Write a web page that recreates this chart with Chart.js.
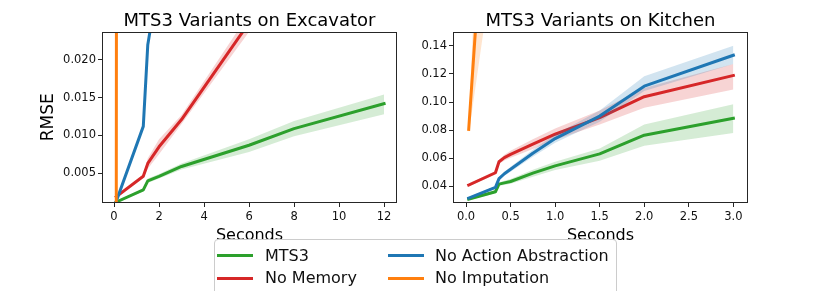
<!DOCTYPE html>
<html>
<head>
<meta charset="utf-8">
<script src="https://cdn.jsdelivr.net/npm/chart.js@4.4.0/dist/chart.umd.min.js"></script>
<style>
body { margin: 0; width: 830px; height: 291px; overflow: hidden; background: #fff; position: relative; font-family: "DejaVu Sans", sans-serif; }
canvas { position: absolute; top: 0; }
#legend { position: absolute; left: 214px; top: 239px; width: 401px; height: 70px; border: 1px solid #ccc; border-radius: 4px; background: rgba(255,255,255,0.8); }
.item { position: absolute; font-size: 16px; line-height: 20px; color: #111; white-space: nowrap; }
.swatch { position: absolute; height: 3px; width: 36px; }
</style>
</head>
<body>
<canvas id="excavator" width="410" height="250" style="left:0"></canvas>
<canvas id="kitchen" width="430" height="250" style="left:400px"></canvas>
<div id="legend"></div>
<script>
// series names / colours, in plot order
const seriesNames = ['MTS3', 'No Memory', 'No Action Abstraction', 'No Imputation'];
const seriesColors = ['#2ca02c', '#d62728', '#1f77b4', '#ff7f0e'];

// Excavator (x = seconds)
const excTimes = [0.1, 1.3, 1.5, 2, 3, 6, 8, 12];
const excMts3 = [0.0012, 0.0028, 0.0040, 0.0046, 0.0059, 0.0087, 0.0109, 0.0142];
const excMts3Lo = [0.0011, 0.0026, 0.0037, 0.0043, 0.0055, 0.0078, 0.0099, 0.0128];
const excMts3Hi = [0.0013, 0.0030, 0.0043, 0.0049, 0.0063, 0.0095, 0.0119, 0.0154];
const excNoMemory = [0.0019, 0.0046, 0.0063, 0.0085, 0.0121, 0.0249, 0.0330, 0.0480];
const excNoMemoryLo = [0.0018, 0.0044, 0.0056, 0.0075, 0.0115, 0.0237, 0.0315, 0.0455];
const excNoMemoryHi = [0.0020, 0.0048, 0.0070, 0.0095, 0.0127, 0.0261, 0.0345, 0.0505];
const excNoAction = [0.0013, 0.0112, 0.0220, 0.0310, 0.0480, 0.0900, 0.1200, 0.1800];
const excNoActionLo = [0.0012, 0.0109, 0.0215, 0.0300, 0.0465, 0.0870, 0.1160, 0.1740];
const excNoActionHi = [0.0014, 0.0115, 0.0225, 0.0320, 0.0495, 0.0930, 0.1240, 0.1860];
const excNoImput = [0.0013, 5.2, 5.6, 5.9, 6.3, 7.1, 7.5, 8.2];
const excNoImputLo = [0.0012, 5.0, 5.4, 5.7, 6.1, 6.9, 7.3, 8.0];
const excNoImputHi = [0.0014, 5.4, 5.8, 6.1, 6.5, 7.3, 7.7, 8.4];
const excXTicks = [0, 2, 4, 6, 8, 10, 12];
const excYTicks = [0.005, 0.010, 0.015, 0.020];

// Kitchen (x = seconds)
const kitTimes = [0.03, 0.33, 0.37, 0.43, 0.5, 0.75, 1.0, 1.5, 2.0, 3.0];
const kitMts3 = [0.0310, 0.0362, 0.0416, 0.0425, 0.0435, 0.0494, 0.0546, 0.0631, 0.0764, 0.0884];
const kitMts3Lo = [0.0302, 0.0352, 0.0404, 0.0410, 0.0418, 0.0469, 0.0516, 0.0583, 0.0690, 0.0780];
const kitMts3Hi = [0.0318, 0.0372, 0.0428, 0.0440, 0.0452, 0.0519, 0.0576, 0.0670, 0.0840, 0.0985];
const kitNoMemory = [0.0410, 0.0497, 0.0575, 0.0605, 0.0628, 0.0701, 0.0771, 0.0889, 0.1038, 0.1189];
const kitNoMemoryLo = [0.0400, 0.0485, 0.0560, 0.0585, 0.0603, 0.0666, 0.0731, 0.0840, 0.0960, 0.1090];
const kitNoMemoryHi = [0.0420, 0.0509, 0.0590, 0.0625, 0.0653, 0.0736, 0.0811, 0.0940, 0.1100, 0.1270];
const kitNoAction = [0.0317, 0.0393, 0.0455, 0.0490, 0.0522, 0.0636, 0.0740, 0.0900, 0.1113, 0.1333];
const kitNoActionLo = [0.0309, 0.0383, 0.0443, 0.0476, 0.0505, 0.0611, 0.0710, 0.0860, 0.1078, 0.1270];
const kitNoActionHi = [0.0325, 0.0403, 0.0467, 0.0504, 0.0539, 0.0661, 0.0770, 0.0940, 0.1184, 0.1400];
const kitNoImput = [0.0805, 0.36, 0.42, 0.47, 0.52, 0.65, 0.75, 0.90, 1.05, 1.30];
const kitNoImputLo = [0.0770, 0.21, 0.26, 0.30, 0.34, 0.45, 0.53, 0.66, 0.78, 0.98];
const kitNoImputHi = [0.0840, 0.52, 0.58, 0.64, 0.70, 0.85, 0.97, 1.14, 1.32, 1.62];
const kitXTicks = [0, 0.5, 1.0, 1.5, 2.0, 2.5, 3.0];
const kitYTicks = [0.04, 0.06, 0.08, 0.10, 0.12, 0.14];

Chart.defaults.font.family = '"DejaVu Sans", sans-serif';
Chart.defaults.color = '#111';

function pts(xs, ys) {
    return xs.map((x, i) => ({ x: x, y: ys[i] }));
}

function hexA(hex, a) {
    const n = parseInt(hex.slice(1), 16);
    return 'rgba(' + (n >> 16) + ',' + ((n >> 8) & 255) + ',' + (n & 255) + ',' + a + ')';
}

// band (lo, hi) then mean line for each series
function buildSets(xs, series) {
    const sets = [];
    series.forEach((s, k) => {
        const c = seriesColors[k];
        sets.push({ data: pts(xs, s[1]), borderWidth: 0, pointRadius: 0, fill: false, clip: 0 });
        sets.push({ data: pts(xs, s[2]), borderWidth: 0, pointRadius: 0, fill: '-1', backgroundColor: hexA(c, 0.2), clip: 0 });
        sets.push({ label: seriesNames[k], data: pts(xs, s[0]), borderColor: c, borderWidth: 3, pointRadius: 0, fill: false,
            borderCapStyle: 'square', borderJoinStyle: 'round', clip: 0 });
    });
    sets.forEach((d, i) => { d.order = -i; });
    return sets;
}

const frame = {
    id: 'frame',
    afterDatasetsDraw(chart) {
        const a = chart.chartArea;
        const ctx = chart.ctx;
        ctx.save();
        ctx.strokeStyle = '#262626';
        ctx.lineWidth = 1;
        ctx.strokeRect(Math.round(a.left) - 0.5, Math.round(a.top) - 0.5, Math.round(a.right - a.left) + 1, Math.round(a.bottom - a.top) + 1);
        ctx.restore();
    }
};

function makeChart(id, title, sets, xr, yr, xTicks, yTicks, xDigits, yDigits, yTitle, yWidth, padRight) {
    return new Chart(document.getElementById(id), {
        type: 'line',
        data: { datasets: sets },
        options: {
            responsive: false,
            animation: false,
            events: [],
            layout: { padding: { left: 0, right: padRight, top: 0, bottom: 0 } },
            plugins: {
                legend: { display: false },
                tooltip: { enabled: false },
                title: { display: true, fullSize: false, text: title, color: '#000', font: { size: 18, weight: 'normal' }, padding: { top: 11, bottom: 0 } }
            },
            scales: {
                x: {
                    type: 'linear', min: xr[0], max: xr[1],
                    afterBuildTicks: ax => { ax.ticks = xTicks.map(v => ({ value: v })); },
                    afterFit: ax => { ax.height = 48; },
                    ticks: { font: { size: 11.5 }, color: '#111', padding: 3, maxRotation: 0, callback: v => v.toFixed(xDigits) },
                    grid: { drawOnChartArea: false, drawTicks: true, tickLength: 5, tickColor: '#262626' },
                    border: { display: false },
                    title: { display: true, text: 'Seconds', color: '#000', font: { size: 16 }, padding: { top: 0, bottom: 5 } }
                },
                y: {
                    type: 'linear', min: yr[0], max: yr[1],
                    afterBuildTicks: ax => { ax.ticks = yTicks.map(v => ({ value: v })); },
                    afterFit: ax => { ax.width = yWidth; },
                    ticks: { font: { size: 11.5 }, color: '#111', padding: 2, callback: v => v.toFixed(yDigits) },
                    grid: { drawOnChartArea: false, drawTicks: true, tickLength: 5, tickColor: '#262626' },
                    border: { display: false },
                    title: { display: !!yTitle, text: yTitle, color: '#000', font: { size: 17 }, padding: { top: 38, bottom: 0 } }
                }
            }
        },
        plugins: [frame]
    });
}

makeChart('excavator', 'MTS3 Variants on Excavator',
    buildSets(excTimes, [
        [excMts3, excMts3Lo, excMts3Hi],
        [excNoMemory, excNoMemoryLo, excNoMemoryHi],
        [excNoAction, excNoActionLo, excNoActionHi],
        [excNoImput, excNoImputLo, excNoImputHi]
    ]),
    [-0.49, 12.53], [0.0012, 0.0236], excXTicks, excYTicks, 0, 3, 'RMSE', 103, 14);

makeChart('kitchen', 'MTS3 Variants on Kitchen',
    buildSets(kitTimes, [
        [kitMts3, kitMts3Lo, kitMts3Hi],
        [kitNoMemory, kitNoMemoryLo, kitNoMemoryHi],
        [kitNoAction, kitNoActionLo, kitNoActionHi],
        [kitNoImput, kitNoImputLo, kitNoImputHi]
    ]),
    [-0.135, 3.153], [0.0289, 0.1494], kitXTicks, kitYTicks, 1, 2, '', 54, 83);

// legend, two columns filled column-wise
const legend = document.getElementById('legend');
seriesNames.forEach((name, k) => {
    const col = Math.floor(k / 2), row = k % 2;
    const sw = document.createElement('div');
    sw.className = 'swatch';
    sw.style.background = seriesColors[k];
    sw.style.left = (2 + col * 171) + 'px';
    sw.style.top = (14 + row * 22.6) + 'px';
    legend.appendChild(sw);
    const t = document.createElement('div');
    t.className = 'item';
    t.textContent = name;
    t.style.left = (50 + col * 170) + 'px';
    t.style.top = (6 + row * 22.3) + 'px';
    legend.appendChild(t);
});
</script>
</body>
</html>
